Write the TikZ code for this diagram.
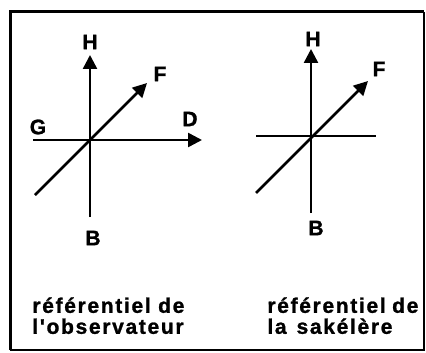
\documentclass[tikz,border=0pt]{standalone}
\usepackage{fontspec}
\setmainfont{Liberation Sans}[BoldFeatures={FakeBold=1.2}]
\newfontfamily\legendfont{Liberation Sans}[LetterSpace=8, BoldFeatures={FakeBold=1.2}]
\usetikzlibrary{arrows.meta, positioning}

\begin{document}
\begin{tikzpicture}[x=0.5pt, y=-0.5pt,
  axis/.style={line width=1.25pt},
  arr/.style={axis, -{Triangle[length=7pt, width=7pt]}},
  lbl/.style={font=\fontsize{10.5}{12}\selectfont\bfseries, inner sep=0pt},
  legend/.style={font=\fontsize{10.5}{10.5}\selectfont\legendfont\bfseries,
    inner sep=0pt, align=left, anchor=north west},
]
\useasboundingbox (0,0) rectangle (426,352);

% frame
\draw[line width=1.5pt] (10,350) |- (424,12);
\draw[line width=0.7pt] (424,12) |- (10,350);

% observer frame (left)
\coordinate (hlow1) at (90,217);
\coordinate (htip1) at (90,55);
\coordinate (gend1) at (33,140);
\coordinate (dtip1) at (202,140);
\coordinate (flow1) at (35,195);
\coordinate (ftip1) at (147,83);
\draw[arr] (hlow1) -- (htip1);
\draw[arr] (gend1) -- (dtip1);
\draw[arr] (flow1) -- (ftip1);
\node[lbl] (H1) at (90,42) {H};
\node[lbl] (B1) at (93,238) {B};
\node[lbl] (G1) at (38,127) {G};
\node[lbl] (D1) at (190,119) {D};
\node[lbl] (F1) at (160,74) {F};

% ship frame (right)
\coordinate (hlow2) at (311,213);
\coordinate (htip2) at (311,49);
\coordinate (gend2) at (256,136);
\coordinate (dend2) at (376,136);
\coordinate (flow2) at (256,193);
\coordinate (ftip2) at (368,81);
\draw[arr] (hlow2) -- (htip2);
\draw[axis] (gend2) -- (dend2);
\draw[arr] (flow2) -- (ftip2);
\node[lbl] (H2) at (313,39) {H};
\node[lbl] (B2) at (316,228) {B};
\node[lbl] (F2) at (379,69) {F};

% captions
\node[legend, text width=76pt] (obs) at (32,297) {référentiel\hfill de\\l'observateur};
\node[legend, text width=75.5pt] (ship) at (267,297) {référentiel\hfill de\\la\hskip 5pt sakélère};

\end{tikzpicture}
\end{document}
